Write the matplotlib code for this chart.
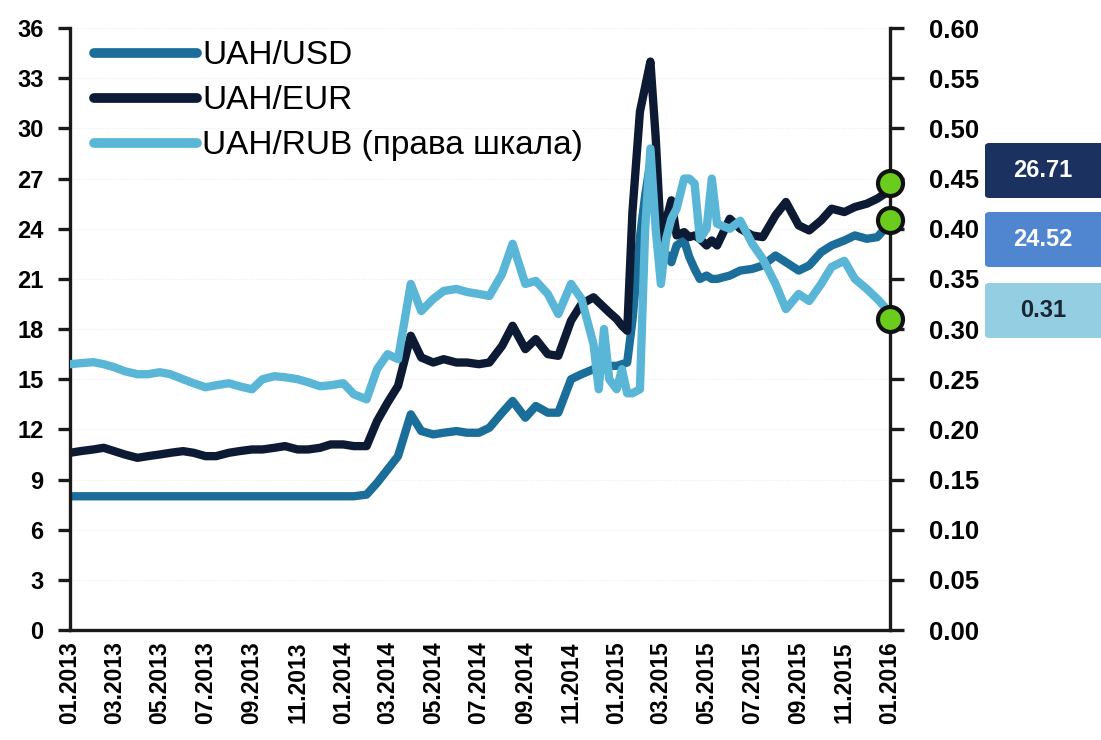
import matplotlib
matplotlib.use("Agg")
import matplotlib.pyplot as plt
import matplotlib.dates as mdates
from matplotlib.patches import FancyBboxPatch
import pandas as pd

# dates (semi-monthly, weekly around the 2015 spike)
DATES = [
    "2013-01-01", "2013-01-15", "2013-02-01", "2013-02-15", "2013-03-01", "2013-03-15",
    "2013-04-01", "2013-04-15", "2013-05-01", "2013-05-15", "2013-06-01", "2013-06-15",
    "2013-07-01", "2013-07-15", "2013-08-01", "2013-08-15", "2013-09-01", "2013-09-15",
    "2013-10-01", "2013-10-15", "2013-11-01", "2013-11-15", "2013-12-01", "2013-12-15",
    "2014-01-01", "2014-01-15", "2014-02-01", "2014-02-15", "2014-03-01", "2014-03-15",
    "2014-04-01", "2014-04-15", "2014-05-01", "2014-05-15", "2014-06-01", "2014-06-15",
    "2014-07-01", "2014-07-15", "2014-08-01", "2014-08-15", "2014-09-01", "2014-09-15",
    "2014-10-01", "2014-10-15", "2014-11-01", "2014-11-15",
    "2014-12-01", "2014-12-08", "2014-12-15", "2014-12-22", "2015-01-01", "2015-01-08",
    "2015-01-15", "2015-01-22", "2015-02-01", "2015-02-08", "2015-02-15", "2015-02-22",
    "2015-03-01", "2015-03-08", "2015-03-15", "2015-03-22", "2015-04-01", "2015-04-08",
    "2015-04-15", "2015-04-22", "2015-05-01", "2015-05-08",
    "2015-05-15", "2015-06-01", "2015-06-15", "2015-07-01", "2015-07-15", "2015-08-01",
    "2015-08-15", "2015-09-01", "2015-09-15", "2015-10-01", "2015-10-15", "2015-11-01",
    "2015-11-15", "2015-12-01", "2015-12-15", "2015-12-25",
]

UAH_USD = [
    8.0, 8.0, 8.0, 8.0, 8.0, 8.0, 8.0, 8.0, 8.0, 8.0, 8.0, 8.0,
    8.0, 8.0, 8.0, 8.0, 8.0, 8.0, 8.0, 8.0, 8.0, 8.0, 8.0, 8.0,
    8.0, 8.0, 8.1, 8.8, 9.6, 10.4, 12.9, 11.9, 11.7, 11.8, 11.9, 11.8,
    11.8, 12.1, 13.0, 13.7, 12.7, 13.4, 13.0, 13.0, 15.0, 15.3,
    15.6, 15.8, 16.0, 15.8, 15.8, 15.9, 16.0, 18.5, 23.5, 26.0, 28.0, 25.0,
    22.0, 22.5, 22.0, 23.0, 23.3, 22.3, 21.6, 21.0, 21.2, 21.0,
    21.0, 21.2, 21.5, 21.6, 21.8, 22.4, 22.0, 21.5, 21.8, 22.6, 23.0, 23.3,
    23.6, 23.4, 23.5, 24.0,
]

UAH_EUR = [
    10.6, 10.7, 10.8, 10.9, 10.7, 10.5, 10.3, 10.4, 10.5, 10.6, 10.7, 10.6,
    10.4, 10.4, 10.6, 10.7, 10.8, 10.8, 10.9, 11.0, 10.8, 10.8, 10.9, 11.1,
    11.1, 11.0, 11.0, 12.5, 13.6, 14.6, 17.6, 16.3, 16.0, 16.2, 16.0, 16.0,
    15.9, 16.0, 17.0, 18.2, 16.8, 17.4, 16.5, 16.4, 18.5, 19.5,
    19.9, 19.6, 19.3, 19.0, 18.6, 18.2, 17.9, 25.0, 31.0, 32.5, 34.0, 29.5,
    23.5, 24.5, 25.7, 23.6, 23.8, 23.5, 23.6, 23.4, 23.0, 23.3,
    23.0, 24.6, 24.0, 23.6, 23.5, 24.8, 25.6, 24.2, 23.9, 24.5, 25.2, 25.0,
    25.3, 25.5, 25.8, 26.1,
]

UAH_RUB = [
    0.265, 0.266, 0.267, 0.265, 0.262, 0.258, 0.255, 0.255, 0.257, 0.255, 0.250, 0.246,
    0.242, 0.244, 0.246, 0.243, 0.240, 0.250, 0.253, 0.252, 0.250, 0.247, 0.243, 0.244,
    0.246, 0.235, 0.230, 0.260, 0.275, 0.270, 0.345, 0.318, 0.330, 0.338, 0.340, 0.337,
    0.335, 0.333, 0.355, 0.385, 0.345, 0.348, 0.335, 0.315, 0.345, 0.330,
    0.285, 0.240, 0.300, 0.250, 0.240, 0.260, 0.236, 0.236, 0.240, 0.400, 0.480, 0.400,
    0.345, 0.390, 0.410, 0.420, 0.450, 0.450, 0.445, 0.390, 0.400, 0.450,
    0.405, 0.400, 0.408, 0.385, 0.370, 0.345, 0.320, 0.335, 0.328, 0.345, 0.362, 0.368,
    0.350, 0.340, 0.330, 0.322,
]

LABELS = ["UAH/USD", "UAH/EUR", "UAH/RUB (права шкала)"]
LAST_VALUES = ["26.71", "24.52", "0.31"]
LAST_USD = 24.52
LAST_EUR = 26.71
LAST_RUB = 0.31

C_USD = "#1b6e99"
C_EUR = "#0d1a33"
C_RUB = "#5ab6d6"

plt.rcParams["font.family"] = ["Liberation Sans", "DejaVu Sans"]

dates = pd.to_datetime(DATES)
end_date = pd.Timestamp("2016-01-01")

fig = plt.figure(figsize=(11.01, 7.40), dpi=100)
ax = fig.add_axes([0.0636, 0.1486, 0.8084 - 0.0636, 0.962 - 0.1486])
ax2 = ax.twinx()

lw = 6.0
l1, = ax.plot(dates, UAH_USD, color=C_USD, lw=lw, solid_joinstyle="round",
              solid_capstyle="round", label=LABELS[0])
l2, = ax.plot(dates, UAH_EUR, color=C_EUR, lw=lw, solid_joinstyle="round",
              solid_capstyle="round", label=LABELS[1])
l3, = ax2.plot(dates, UAH_RUB, color=C_RUB, lw=lw, solid_joinstyle="round",
               solid_capstyle="round", label=LABELS[2])

# end markers
mk = dict(marker="o", markersize=18, markerfacecolor="#6acd1e",
          markeredgecolor="#111111", markeredgewidth=3, clip_on=False, zorder=10)
ax2.plot([end_date], [LAST_RUB], **mk)
ax2.plot([end_date], [LAST_EUR / 60.0], **mk)
ax2.plot([end_date], [LAST_USD / 60.0], **mk)

ax.set_xlim(pd.Timestamp("2013-01-01"), end_date)
ax.set_ylim(0, 36)
ax2.set_ylim(0, 0.6)
ax.set_yticks(range(0, 37, 3))
ax2.set_yticks([i * 0.05 for i in range(13)])
ax2.set_yticklabels(["%.2f" % (i * 0.05) for i in range(13)])

ax.xaxis.set_major_locator(mdates.MonthLocator(bymonth=[1, 3, 5, 7, 9, 11]))
ax.xaxis.set_major_formatter(mdates.DateFormatter("%m.%Y"))
for lab in ax.get_xticklabels():
    lab.set_rotation(90)

ax.grid(axis="y", color="#ececec", lw=0.8, ls=":")

for a in (ax, ax2):
    a.spines["top"].set_visible(False)
    for s in ("left", "right", "bottom"):
        a.spines[s].set_linewidth(2.4)
        a.spines[s].set_color("#1a1a1a")
ax.spines["right"].set_visible(False)
ax2.spines["left"].set_visible(False)
ax2.spines["bottom"].set_visible(False)

ax.tick_params(axis="y", length=9, width=2.4, color="#1a1a1a", pad=10,
               labelsize=17)
ax.tick_params(axis="x", length=0, pad=8, labelsize=16.5)
ax2.tick_params(axis="y", length=10, width=2.4, color="#1a1a1a", pad=18,
                labelsize=18.5)
for lab in ax.get_yticklabels() + ax.get_xticklabels() + ax2.get_yticklabels():
    lab.set_fontweight("bold")

leg = ax2.legend(handles=[l1, l2, l3], loc="upper left", bbox_to_anchor=(0.005, 1.013),
                 frameon=False, fontsize=24, handlelength=3.1, handletextpad=0.15,
                 labelspacing=0.42, borderaxespad=0.2)
for h in leg.get_lines():
    h.set_linewidth(7)
    h.set_solid_capstyle("round")

# value boxes on the right
box_colors = ["#1b3160", "#4f86cf", "#93cee2"]
text_colors = ["white", "white", "#1a2533"]
box_tops = [143, 212, 283]
W, H = 1101.0, 740.0
for val, bc, tc, top in zip(LAST_VALUES, box_colors, text_colors, box_tops):
    x0 = 985 / W
    y0 = 1 - (top + 55) / H
    p = FancyBboxPatch((x0, y0), 130 / W, 55 / H, boxstyle="round,pad=0,rounding_size=0.004",
                       transform=fig.transFigure, facecolor=bc, edgecolor="none")
    fig.add_artist(p)
    fig.text(1043 / W, 1 - (top + 27.5) / H, val, color=tc, fontsize=17,
             fontweight="bold", ha="center", va="center")

fig.savefig("out.png", dpi=100)
